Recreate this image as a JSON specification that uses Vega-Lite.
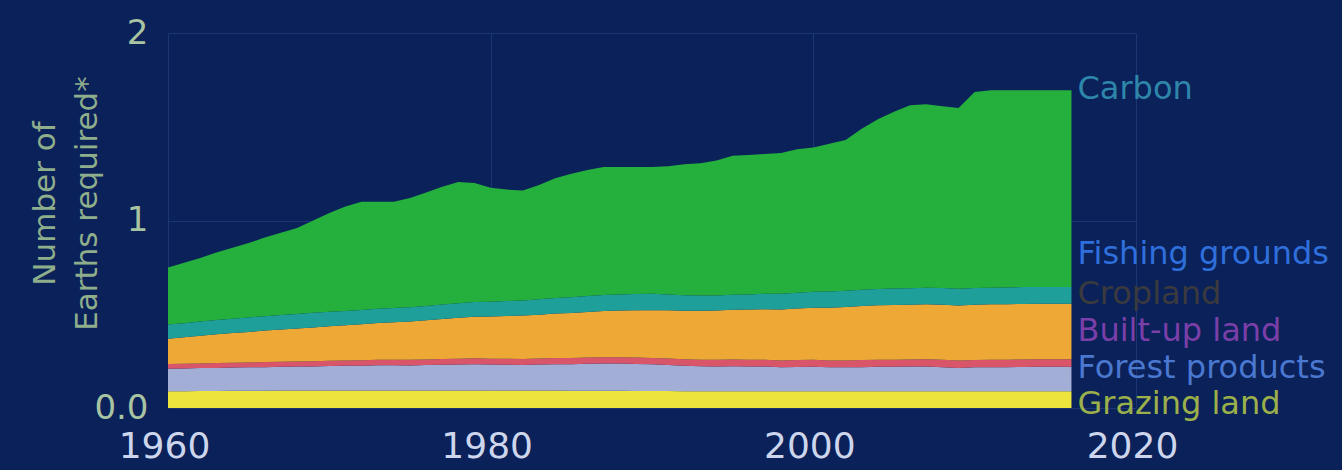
{
  "$schema": "https://vega.github.io/schema/vega-lite/v6.json",
  "width": 968,
  "height": 375,
  "autosize": {"type": "none"},
  "padding": {"left": 168, "top": 33, "right": 206, "bottom": 62},
  "background": "#0a2159",
  "config": {
    "view": {"stroke": null},
    "font": "DejaVu Sans"
  },
  "datasets": {
    "footprint": [
      {"year":1960,"layer":"Grazing land","value":0.090},{"year":1960,"layer":"Forest products","value":0.120},{"year":1960,"layer":"Built-up land","value":0.025},{"year":1960,"layer":"Cropland","value":0.135},{"year":1960,"layer":"Fishing grounds","value":0.075},{"year":1960,"layer":"Carbon","value":0.305},
      {"year":1961,"layer":"Grazing land","value":0.090},{"year":1961,"layer":"Forest products","value":0.121},{"year":1961,"layer":"Built-up land","value":0.025},{"year":1961,"layer":"Cropland","value":0.141},{"year":1961,"layer":"Fishing grounds","value":0.075},{"year":1961,"layer":"Carbon","value":0.323},
      {"year":1962,"layer":"Grazing land","value":0.091},{"year":1962,"layer":"Forest products","value":0.122},{"year":1962,"layer":"Built-up land","value":0.025},{"year":1962,"layer":"Cropland","value":0.147},{"year":1962,"layer":"Fishing grounds","value":0.076},{"year":1962,"layer":"Carbon","value":0.339},
      {"year":1963,"layer":"Grazing land","value":0.091},{"year":1963,"layer":"Forest products","value":0.123},{"year":1963,"layer":"Built-up land","value":0.026},{"year":1963,"layer":"Cropland","value":0.153},{"year":1963,"layer":"Fishing grounds","value":0.076},{"year":1963,"layer":"Carbon","value":0.361},
      {"year":1964,"layer":"Grazing land","value":0.092},{"year":1964,"layer":"Forest products","value":0.124},{"year":1964,"layer":"Built-up land","value":0.026},{"year":1964,"layer":"Cropland","value":0.158},{"year":1964,"layer":"Fishing grounds","value":0.076},{"year":1964,"layer":"Carbon","value":0.379},
      {"year":1965,"layer":"Grazing land","value":0.092},{"year":1965,"layer":"Forest products","value":0.125},{"year":1965,"layer":"Built-up land","value":0.026},{"year":1965,"layer":"Cropland","value":0.163},{"year":1965,"layer":"Fishing grounds","value":0.077},{"year":1965,"layer":"Carbon","value":0.397},
      {"year":1966,"layer":"Grazing land","value":0.092},{"year":1966,"layer":"Forest products","value":0.126},{"year":1966,"layer":"Built-up land","value":0.027},{"year":1966,"layer":"Cropland","value":0.168},{"year":1966,"layer":"Fishing grounds","value":0.077},{"year":1966,"layer":"Carbon","value":0.420},
      {"year":1967,"layer":"Grazing land","value":0.093},{"year":1967,"layer":"Forest products","value":0.127},{"year":1967,"layer":"Built-up land","value":0.027},{"year":1967,"layer":"Cropland","value":0.172},{"year":1967,"layer":"Fishing grounds","value":0.077},{"year":1967,"layer":"Carbon","value":0.439},
      {"year":1968,"layer":"Grazing land","value":0.093},{"year":1968,"layer":"Forest products","value":0.128},{"year":1968,"layer":"Built-up land","value":0.027},{"year":1968,"layer":"Cropland","value":0.176},{"year":1968,"layer":"Fishing grounds","value":0.078},{"year":1968,"layer":"Carbon","value":0.458},
      {"year":1969,"layer":"Grazing land","value":0.093},{"year":1969,"layer":"Forest products","value":0.129},{"year":1969,"layer":"Built-up land","value":0.028},{"year":1969,"layer":"Cropland","value":0.180},{"year":1969,"layer":"Fishing grounds","value":0.078},{"year":1969,"layer":"Carbon","value":0.492},
      {"year":1970,"layer":"Grazing land","value":0.094},{"year":1970,"layer":"Forest products","value":0.130},{"year":1970,"layer":"Built-up land","value":0.028},{"year":1970,"layer":"Cropland","value":0.184},{"year":1970,"layer":"Fishing grounds","value":0.078},{"year":1970,"layer":"Carbon","value":0.526},
      {"year":1971,"layer":"Grazing land","value":0.094},{"year":1971,"layer":"Forest products","value":0.131},{"year":1971,"layer":"Built-up land","value":0.028},{"year":1971,"layer":"Cropland","value":0.188},{"year":1971,"layer":"Fishing grounds","value":0.077},{"year":1971,"layer":"Carbon","value":0.557},
      {"year":1972,"layer":"Grazing land","value":0.094},{"year":1972,"layer":"Forest products","value":0.132},{"year":1972,"layer":"Built-up land","value":0.029},{"year":1972,"layer":"Cropland","value":0.192},{"year":1972,"layer":"Fishing grounds","value":0.076},{"year":1972,"layer":"Carbon","value":0.577},
      {"year":1973,"layer":"Grazing land","value":0.094},{"year":1973,"layer":"Forest products","value":0.134},{"year":1973,"layer":"Built-up land","value":0.029},{"year":1973,"layer":"Cropland","value":0.196},{"year":1973,"layer":"Fishing grounds","value":0.076},{"year":1973,"layer":"Carbon","value":0.571},
      {"year":1974,"layer":"Grazing land","value":0.094},{"year":1974,"layer":"Forest products","value":0.134},{"year":1974,"layer":"Built-up land","value":0.029},{"year":1974,"layer":"Cropland","value":0.200},{"year":1974,"layer":"Fishing grounds","value":0.076},{"year":1974,"layer":"Carbon","value":0.567},
      {"year":1975,"layer":"Grazing land","value":0.094},{"year":1975,"layer":"Forest products","value":0.133},{"year":1975,"layer":"Built-up land","value":0.030},{"year":1975,"layer":"Cropland","value":0.204},{"year":1975,"layer":"Fishing grounds","value":0.076},{"year":1975,"layer":"Carbon","value":0.583},
      {"year":1976,"layer":"Grazing land","value":0.094},{"year":1976,"layer":"Forest products","value":0.135},{"year":1976,"layer":"Built-up land","value":0.030},{"year":1976,"layer":"Cropland","value":0.209},{"year":1976,"layer":"Fishing grounds","value":0.076},{"year":1976,"layer":"Carbon","value":0.606},
      {"year":1977,"layer":"Grazing land","value":0.094},{"year":1977,"layer":"Forest products","value":0.137},{"year":1977,"layer":"Built-up land","value":0.030},{"year":1977,"layer":"Cropland","value":0.214},{"year":1977,"layer":"Fishing grounds","value":0.077},{"year":1977,"layer":"Carbon","value":0.628},
      {"year":1978,"layer":"Grazing land","value":0.094},{"year":1978,"layer":"Forest products","value":0.138},{"year":1978,"layer":"Built-up land","value":0.031},{"year":1978,"layer":"Cropland","value":0.218},{"year":1978,"layer":"Fishing grounds","value":0.078},{"year":1978,"layer":"Carbon","value":0.646},
      {"year":1979,"layer":"Grazing land","value":0.094},{"year":1979,"layer":"Forest products","value":0.140},{"year":1979,"layer":"Built-up land","value":0.031},{"year":1979,"layer":"Cropland","value":0.222},{"year":1979,"layer":"Fishing grounds","value":0.078},{"year":1979,"layer":"Carbon","value":0.635},
      {"year":1980,"layer":"Grazing land","value":0.093},{"year":1980,"layer":"Forest products","value":0.139},{"year":1980,"layer":"Built-up land","value":0.031},{"year":1980,"layer":"Cropland","value":0.225},{"year":1980,"layer":"Fishing grounds","value":0.079},{"year":1980,"layer":"Carbon","value":0.608},
      {"year":1981,"layer":"Grazing land","value":0.093},{"year":1981,"layer":"Forest products","value":0.138},{"year":1981,"layer":"Built-up land","value":0.032},{"year":1981,"layer":"Cropland","value":0.228},{"year":1981,"layer":"Fishing grounds","value":0.080},{"year":1981,"layer":"Carbon","value":0.594},
      {"year":1982,"layer":"Grazing land","value":0.093},{"year":1982,"layer":"Forest products","value":0.137},{"year":1982,"layer":"Built-up land","value":0.032},{"year":1982,"layer":"Cropland","value":0.231},{"year":1982,"layer":"Fishing grounds","value":0.081},{"year":1982,"layer":"Carbon","value":0.586},
      {"year":1983,"layer":"Grazing land","value":0.093},{"year":1983,"layer":"Forest products","value":0.139},{"year":1983,"layer":"Built-up land","value":0.032},{"year":1983,"layer":"Cropland","value":0.234},{"year":1983,"layer":"Fishing grounds","value":0.082},{"year":1983,"layer":"Carbon","value":0.610},
      {"year":1984,"layer":"Grazing land","value":0.093},{"year":1984,"layer":"Forest products","value":0.141},{"year":1984,"layer":"Built-up land","value":0.033},{"year":1984,"layer":"Cropland","value":0.237},{"year":1984,"layer":"Fishing grounds","value":0.083},{"year":1984,"layer":"Carbon","value":0.638},
      {"year":1985,"layer":"Grazing land","value":0.092},{"year":1985,"layer":"Forest products","value":0.142},{"year":1985,"layer":"Built-up land","value":0.033},{"year":1985,"layer":"Cropland","value":0.240},{"year":1985,"layer":"Fishing grounds","value":0.084},{"year":1985,"layer":"Carbon","value":0.659},
      {"year":1986,"layer":"Grazing land","value":0.092},{"year":1986,"layer":"Forest products","value":0.144},{"year":1986,"layer":"Built-up land","value":0.033},{"year":1986,"layer":"Cropland","value":0.243},{"year":1986,"layer":"Fishing grounds","value":0.085},{"year":1986,"layer":"Carbon","value":0.673},
      {"year":1987,"layer":"Grazing land","value":0.092},{"year":1987,"layer":"Forest products","value":0.145},{"year":1987,"layer":"Built-up land","value":0.034},{"year":1987,"layer":"Cropland","value":0.246},{"year":1987,"layer":"Fishing grounds","value":0.086},{"year":1987,"layer":"Carbon","value":0.682},
      {"year":1988,"layer":"Grazing land","value":0.092},{"year":1988,"layer":"Forest products","value":0.145},{"year":1988,"layer":"Built-up land","value":0.034},{"year":1988,"layer":"Cropland","value":0.249},{"year":1988,"layer":"Fishing grounds","value":0.086},{"year":1988,"layer":"Carbon","value":0.679},
      {"year":1989,"layer":"Grazing land","value":0.091},{"year":1989,"layer":"Forest products","value":0.144},{"year":1989,"layer":"Built-up land","value":0.034},{"year":1989,"layer":"Cropland","value":0.252},{"year":1989,"layer":"Fishing grounds","value":0.087},{"year":1989,"layer":"Carbon","value":0.677},
      {"year":1990,"layer":"Grazing land","value":0.091},{"year":1990,"layer":"Forest products","value":0.142},{"year":1990,"layer":"Built-up land","value":0.034},{"year":1990,"layer":"Cropland","value":0.255},{"year":1990,"layer":"Fishing grounds","value":0.087},{"year":1990,"layer":"Carbon","value":0.676},
      {"year":1991,"layer":"Grazing land","value":0.091},{"year":1991,"layer":"Forest products","value":0.138},{"year":1991,"layer":"Built-up land","value":0.035},{"year":1991,"layer":"Cropland","value":0.257},{"year":1991,"layer":"Fishing grounds","value":0.085},{"year":1991,"layer":"Carbon","value":0.684},
      {"year":1992,"layer":"Grazing land","value":0.090},{"year":1992,"layer":"Forest products","value":0.135},{"year":1992,"layer":"Built-up land","value":0.035},{"year":1992,"layer":"Cropland","value":0.259},{"year":1992,"layer":"Fishing grounds","value":0.083},{"year":1992,"layer":"Carbon","value":0.698},
      {"year":1993,"layer":"Grazing land","value":0.090},{"year":1993,"layer":"Forest products","value":0.133},{"year":1993,"layer":"Built-up land","value":0.035},{"year":1993,"layer":"Cropland","value":0.261},{"year":1993,"layer":"Fishing grounds","value":0.081},{"year":1993,"layer":"Carbon","value":0.705},
      {"year":1994,"layer":"Grazing land","value":0.090},{"year":1994,"layer":"Forest products","value":0.132},{"year":1994,"layer":"Built-up land","value":0.035},{"year":1994,"layer":"Cropland","value":0.263},{"year":1994,"layer":"Fishing grounds","value":0.080},{"year":1994,"layer":"Carbon","value":0.720},
      {"year":1995,"layer":"Grazing land","value":0.090},{"year":1995,"layer":"Forest products","value":0.133},{"year":1995,"layer":"Built-up land","value":0.036},{"year":1995,"layer":"Cropland","value":0.265},{"year":1995,"layer":"Fishing grounds","value":0.080},{"year":1995,"layer":"Carbon","value":0.741},
      {"year":1996,"layer":"Grazing land","value":0.090},{"year":1996,"layer":"Forest products","value":0.131},{"year":1996,"layer":"Built-up land","value":0.036},{"year":1996,"layer":"Cropland","value":0.268},{"year":1996,"layer":"Fishing grounds","value":0.081},{"year":1996,"layer":"Carbon","value":0.744},
      {"year":1997,"layer":"Grazing land","value":0.090},{"year":1997,"layer":"Forest products","value":0.131},{"year":1997,"layer":"Built-up land","value":0.036},{"year":1997,"layer":"Cropland","value":0.270},{"year":1997,"layer":"Fishing grounds","value":0.082},{"year":1997,"layer":"Carbon","value":0.746},
      {"year":1998,"layer":"Grazing land","value":0.090},{"year":1998,"layer":"Forest products","value":0.128},{"year":1998,"layer":"Built-up land","value":0.036},{"year":1998,"layer":"Cropland","value":0.272},{"year":1998,"layer":"Fishing grounds","value":0.083},{"year":1998,"layer":"Carbon","value":0.751},
      {"year":1999,"layer":"Grazing land","value":0.090},{"year":1999,"layer":"Forest products","value":0.129},{"year":1999,"layer":"Built-up land","value":0.037},{"year":1999,"layer":"Cropland","value":0.275},{"year":1999,"layer":"Fishing grounds","value":0.084},{"year":1999,"layer":"Carbon","value":0.765},
      {"year":2000,"layer":"Grazing land","value":0.090},{"year":2000,"layer":"Forest products","value":0.130},{"year":2000,"layer":"Built-up land","value":0.037},{"year":2000,"layer":"Cropland","value":0.278},{"year":2000,"layer":"Fishing grounds","value":0.085},{"year":2000,"layer":"Carbon","value":0.770},
      {"year":2001,"layer":"Grazing land","value":0.090},{"year":2001,"layer":"Forest products","value":0.127},{"year":2001,"layer":"Built-up land","value":0.037},{"year":2001,"layer":"Cropland","value":0.281},{"year":2001,"layer":"Fishing grounds","value":0.086},{"year":2001,"layer":"Carbon","value":0.789},
      {"year":2002,"layer":"Grazing land","value":0.090},{"year":2002,"layer":"Forest products","value":0.127},{"year":2002,"layer":"Built-up land","value":0.037},{"year":2002,"layer":"Cropland","value":0.285},{"year":2002,"layer":"Fishing grounds","value":0.086},{"year":2002,"layer":"Carbon","value":0.805},
      {"year":2003,"layer":"Grazing land","value":0.090},{"year":2003,"layer":"Forest products","value":0.128},{"year":2003,"layer":"Built-up land","value":0.038},{"year":2003,"layer":"Cropland","value":0.288},{"year":2003,"layer":"Fishing grounds","value":0.087},{"year":2003,"layer":"Carbon","value":0.859},
      {"year":2004,"layer":"Grazing land","value":0.090},{"year":2004,"layer":"Forest products","value":0.130},{"year":2004,"layer":"Built-up land","value":0.038},{"year":2004,"layer":"Cropland","value":0.290},{"year":2004,"layer":"Fishing grounds","value":0.087},{"year":2004,"layer":"Carbon","value":0.905},
      {"year":2005,"layer":"Grazing land","value":0.090},{"year":2005,"layer":"Forest products","value":0.130},{"year":2005,"layer":"Built-up land","value":0.038},{"year":2005,"layer":"Cropland","value":0.291},{"year":2005,"layer":"Fishing grounds","value":0.088},{"year":2005,"layer":"Carbon","value":0.943},
      {"year":2006,"layer":"Grazing land","value":0.090},{"year":2006,"layer":"Forest products","value":0.131},{"year":2006,"layer":"Built-up land","value":0.038},{"year":2006,"layer":"Cropland","value":0.292},{"year":2006,"layer":"Fishing grounds","value":0.088},{"year":2006,"layer":"Carbon","value":0.976},
      {"year":2007,"layer":"Grazing land","value":0.090},{"year":2007,"layer":"Forest products","value":0.131},{"year":2007,"layer":"Built-up land","value":0.039},{"year":2007,"layer":"Cropland","value":0.293},{"year":2007,"layer":"Fishing grounds","value":0.088},{"year":2007,"layer":"Carbon","value":0.979},
      {"year":2008,"layer":"Grazing land","value":0.090},{"year":2008,"layer":"Forest products","value":0.128},{"year":2008,"layer":"Built-up land","value":0.039},{"year":2008,"layer":"Cropland","value":0.294},{"year":2008,"layer":"Fishing grounds","value":0.089},{"year":2008,"layer":"Carbon","value":0.970},
      {"year":2009,"layer":"Grazing land","value":0.090},{"year":2009,"layer":"Forest products","value":0.124},{"year":2009,"layer":"Built-up land","value":0.039},{"year":2009,"layer":"Cropland","value":0.294},{"year":2009,"layer":"Fishing grounds","value":0.089},{"year":2009,"layer":"Carbon","value":0.964},
      {"year":2010,"layer":"Grazing land","value":0.090},{"year":2010,"layer":"Forest products","value":0.127},{"year":2010,"layer":"Built-up land","value":0.039},{"year":2010,"layer":"Cropland","value":0.295},{"year":2010,"layer":"Fishing grounds","value":0.089},{"year":2010,"layer":"Carbon","value":1.045},
      {"year":2011,"layer":"Grazing land","value":0.090},{"year":2011,"layer":"Forest products","value":0.128},{"year":2011,"layer":"Built-up land","value":0.040},{"year":2011,"layer":"Cropland","value":0.295},{"year":2011,"layer":"Fishing grounds","value":0.089},{"year":2011,"layer":"Carbon","value":1.053},
      {"year":2012,"layer":"Grazing land","value":0.090},{"year":2012,"layer":"Forest products","value":0.128},{"year":2012,"layer":"Built-up land","value":0.040},{"year":2012,"layer":"Cropland","value":0.295},{"year":2012,"layer":"Fishing grounds","value":0.090},{"year":2012,"layer":"Carbon","value":1.052},
      {"year":2013,"layer":"Grazing land","value":0.090},{"year":2013,"layer":"Forest products","value":0.129},{"year":2013,"layer":"Built-up land","value":0.040},{"year":2013,"layer":"Cropland","value":0.296},{"year":2013,"layer":"Fishing grounds","value":0.090},{"year":2013,"layer":"Carbon","value":1.050},
      {"year":2014,"layer":"Grazing land","value":0.090},{"year":2014,"layer":"Forest products","value":0.130},{"year":2014,"layer":"Built-up land","value":0.040},{"year":2014,"layer":"Cropland","value":0.296},{"year":2014,"layer":"Fishing grounds","value":0.090},{"year":2014,"layer":"Carbon","value":1.049},
      {"year":2015,"layer":"Grazing land","value":0.090},{"year":2015,"layer":"Forest products","value":0.130},{"year":2015,"layer":"Built-up land","value":0.040},{"year":2015,"layer":"Cropland","value":0.296},{"year":2015,"layer":"Fishing grounds","value":0.090},{"year":2015,"layer":"Carbon","value":1.049},
      {"year":2016,"layer":"Grazing land","value":0.090},{"year":2016,"layer":"Forest products","value":0.130},{"year":2016,"layer":"Built-up land","value":0.040},{"year":2016,"layer":"Cropland","value":0.296},{"year":2016,"layer":"Fishing grounds","value":0.090},{"year":2016,"layer":"Carbon","value":1.049}
    ],
    "layerOrder": [
      {"layer": "Grazing land", "rank": 1},
      {"layer": "Forest products", "rank": 2},
      {"layer": "Built-up land", "rank": 3},
      {"layer": "Cropland", "rank": 4},
      {"layer": "Fishing grounds", "rank": 5},
      {"layer": "Carbon", "rank": 6}
    ],
    "labels": [
      {"layer": "Carbon", "year": 2016, "labelValue": 1.70},
      {"layer": "Fishing grounds", "year": 2016, "labelValue": 0.82},
      {"layer": "Cropland", "year": 2016, "labelValue": 0.61},
      {"layer": "Built-up land", "year": 2016, "labelValue": 0.41},
      {"layer": "Forest products", "year": 2016, "labelValue": 0.215},
      {"layer": "Grazing land", "year": 2016, "labelValue": 0.02}
    ]
  },
  "layer": [
    {
      "data": {"name": "footprint"},
      "transform": [
        {"lookup": "layer", "from": {"data": {"name": "layerOrder"}, "key": "layer", "fields": ["rank"]}}
      ],
      "mark": {"type": "area", "interpolate": "linear", "opacity": 1},
      "encoding": {
        "x": {
          "field": "year", "type": "quantitative",
          "scale": {"domain": [1960, 2020], "nice": false, "zero": false},
          "axis": {
            "values": [1960, 1980, 2000, 2020], "format": "d", "title": null,
            "labelFontSize": 36, "labelColor": "#cdd6ec", "labelFont": "DejaVu Sans",
            "labelFlush": false, "labelOverlap": false, "labelOffset": -4,
            "domain": false, "ticks": false, "labelPadding": 21,
            "grid": true, "gridColor": "#1b3672", "gridWidth": 1
          }
        },
        "y": {
          "field": "value", "type": "quantitative", "stack": "zero",
          "scale": {"domain": [0, 2], "nice": false},
          "axis": {
            "values": [0, 1, 2],
            "labelExpr": "datum.value == 0 ? '0.0' : format(datum.value, 'd')",
            "labelFontSize": 34, "labelColor": "#a9c4a2", "labelFont": "DejaVu Sans",
            "domain": false, "ticks": false, "labelPadding": 20,
            "grid": true, "gridColor": "#1b3672", "gridWidth": 1,
            "title": ["Number of", "Earths required*"],
            "titleFont": "DejaVu Sans", "titleFontSize": 31, "titleFontWeight": "normal",
            "titleColor": "#8fae8c", "titleAngle": -90, "titleLineHeight": 42,
            "titleX": -138, "titleY": 170, "titleAlign": "center", "titleBaseline": "top"
          }
        },
        "order": {"field": "rank", "type": "quantitative", "sort": "ascending"},
        "color": {
          "field": "layer", "type": "nominal",
          "scale": {
            "domain": ["Grazing land", "Forest products", "Built-up land", "Cropland", "Fishing grounds", "Carbon"],
            "range": ["#ede43c", "#a3aed6", "#d9566a", "#eea836", "#1f9f9a", "#25b03e"]
          },
          "legend": null
        }
      }
    },
    {
      "data": {"name": "labels"},
      "mark": {"type": "text", "align": "left", "baseline": "middle", "dx": 6, "fontSize": 32, "font": "DejaVu Sans"},
      "encoding": {
        "x": {"field": "year", "type": "quantitative"},
        "y": {"field": "labelValue", "type": "quantitative", "stack": null},
        "text": {"field": "layer"},
        "color": {
          "field": "layer", "type": "nominal",
          "scale": {
            "domain": ["Carbon", "Fishing grounds", "Cropland", "Built-up land", "Forest products", "Grazing land"],
            "range": ["#2f86ab", "#2f6fdc", "#3a3a3e", "#7a3fa8", "#4a78d0", "#9bb04a"]
          },
          "legend": null
        }
      }
    }
  ],
  "resolve": {"scale": {"color": "independent"}}
}
